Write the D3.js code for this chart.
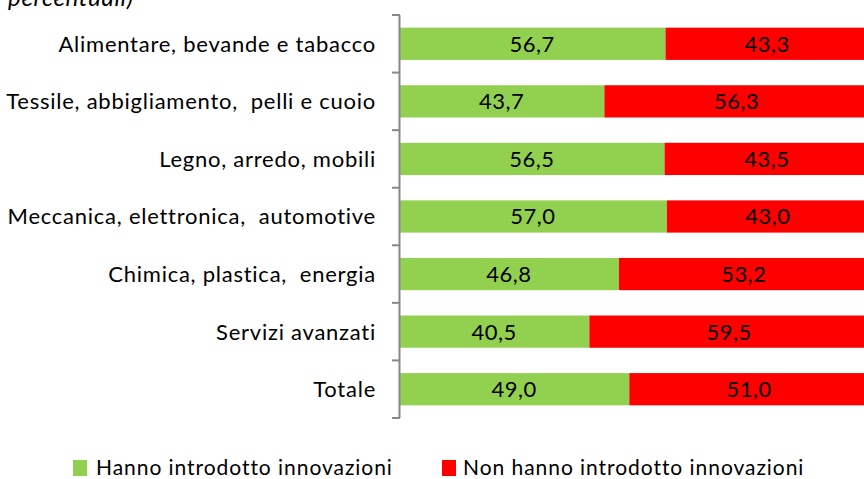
<!DOCTYPE html>
<html><head><meta charset="utf-8">
<script src="https://cdn.jsdelivr.net/npm/d3@7"></script>
<style>body{margin:0;background:#fff}svg{display:block}text{font-family:Lato,"Open Sans",sans-serif}</style>
</head><body>
<svg id="c" width="864" height="479"></svg>
<script>
const categories = ["Alimentare, bevande e tabacco","Tessile, abbigliamento,  pelli e cuoio","Legno, arredo, mobili","Meccanica, elettronica,  automotive","Chimica, plastica,  energia","Servizi avanzati","Totale"];
const innovano = [56.7, 43.7, 56.5, 57.0, 46.8, 40.5, 49.0];
const nonInnovano = [43.3, 56.3, 43.5, 43.0, 53.2, 59.5, 51.0];
const seriesNames = ["Hanno introdotto innovazioni","Non hanno introdotto innovazioni"];
const colors = ["#92D050","#FF0000"];

const svg = d3.select("#c");
const top0 = 15, bot0 = 418;
const x = d3.scaleLinear().domain([0,100]).range([399, 869]);
const y = d3.scaleBand().domain(categories).range([top0, bot0]).paddingInner(0.44).paddingOuter(0.22);
const fmt = v => v.toFixed(1).replace(".", ",");

svg.append("text").attr("x",8).attr("y",6).attr("font-style","italic").attr("font-size",24)
  .attr("letter-spacing",0.7).attr("fill","#000").text("percentuali)");

const data = categories.map((c,i)=>({c, vals:[innovano[i], nonInnovano[i]]}));
const g = svg.append("g");
data.forEach(d=>{
  let x0 = 0;
  d.vals.forEach((v,j)=>{
    g.append("rect").attr("x",x(x0)).attr("y",y(d.c)).attr("width",x(x0+v)-x(x0)).attr("height",y.bandwidth()).attr("fill",colors[j]);
    g.append("text").attr("x",(x(x0)+x(x0+v))/2).attr("y",y(d.c)+y.bandwidth()/2).attr("dy","0.36em")
      .attr("text-anchor","middle").attr("font-size",22).attr("letter-spacing",0.5).attr("fill","#000").text(fmt(v));
    x0 += v;
  });
});

// axis
const yAxisBand = d3.scaleBand().domain(categories).range([top0, bot0]);
const ax = svg.append("g");
ax.append("line").attr("x1",399.5).attr("x2",399.5).attr("y1",top0).attr("y2",bot0).attr("stroke","#888").attr("stroke-width",2);
const tickPos = categories.map(c=>yAxisBand(c)).concat([bot0]);
tickPos.forEach(t=>ax.append("line").attr("x1",392).attr("x2",400).attr("y1",t).attr("y2",t).attr("stroke","#888").attr("stroke-width",2));
categories.forEach(c=>{
  ax.append("text").attr("x",376).attr("y",yAxisBand(c)+yAxisBand.bandwidth()/2).attr("dy","0.36em")
    .attr("text-anchor","end").attr("font-size",22).attr("letter-spacing",0.75).attr("fill","#000").text(c).style("white-space","pre");
});

// legend
const lx = [73, 442], tx = [96, 463];
seriesNames.forEach((s,i)=>{
  svg.append("rect").attr("x",lx[i]).attr("y",460).attr("width",14).attr("height",16).attr("fill",colors[i]);
  svg.append("text").attr("x",tx[i]).attr("y",475).attr("font-size",21).attr("letter-spacing",0.95).attr("fill","#000").text(s).style("white-space","pre");
});
</script>
</body></html>
